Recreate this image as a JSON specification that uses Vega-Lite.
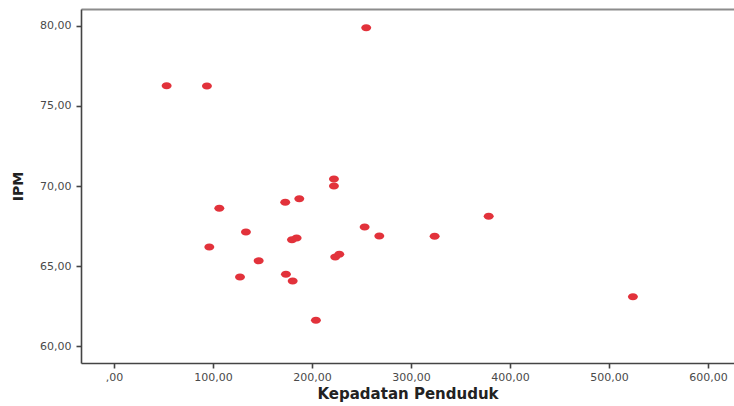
{
  "$schema": "https://vega.github.io/schema/vega-lite/v6.json",
  "width": 653,
  "height": 354,
  "autosize": "none",
  "padding": {"left": 81, "top": 9, "right": 0, "bottom": 43},
  "background": "white",
  "config": {"view": {"stroke": null}},
  "data": {"values": [
    {"kepadatan": 53.2, "ipm": 76.27},
    {"kepadatan": 93.9, "ipm": 76.25},
    {"kepadatan": 254.8, "ipm": 79.89},
    {"kepadatan": 222.2, "ipm": 70.44},
    {"kepadatan": 222.2, "ipm": 70.0},
    {"kepadatan": 106.4, "ipm": 68.61},
    {"kepadatan": 173.0, "ipm": 68.98},
    {"kepadatan": 187.2, "ipm": 69.21},
    {"kepadatan": 133.3, "ipm": 67.13},
    {"kepadatan": 96.3, "ipm": 66.19},
    {"kepadatan": 179.8, "ipm": 66.64},
    {"kepadatan": 184.5, "ipm": 66.75},
    {"kepadatan": 253.2, "ipm": 67.44},
    {"kepadatan": 268.0, "ipm": 66.88},
    {"kepadatan": 323.9, "ipm": 66.86},
    {"kepadatan": 378.5, "ipm": 68.11},
    {"kepadatan": 146.2, "ipm": 65.33},
    {"kepadatan": 127.3, "ipm": 64.31},
    {"kepadatan": 173.7, "ipm": 64.48},
    {"kepadatan": 180.5, "ipm": 64.06},
    {"kepadatan": 223.5, "ipm": 65.56},
    {"kepadatan": 227.6, "ipm": 65.73},
    {"kepadatan": 204.0, "ipm": 61.61},
    {"kepadatan": 524.2, "ipm": 63.08}
  ]},
  "layer": [
    {
      "mark": {"type": "point", "filled": true, "opacity": 1, "color": "#e2323b", "size": 100, "shape": "M-1,0A1,0.7 0 1,1 1,0A1,0.7 0 1,1 -1,0Z"},
      "encoding": {
        "x": {
          "field": "kepadatan", "type": "quantitative",
          "scale": {"domain": [-33.3, 626.3], "nice": false, "zero": false},
          "axis": {
            "orient": "bottom",
            "title": "Kepadatan Penduduk",
            "values": [0, 100, 200, 300, 400, 500, 600],
            "labelExpr": "datum.value == 0 ? ',00' : replace(format(datum.value, '.2f'), '.', ',')",
            "grid": false,
            "domainColor": "#444444", "domainWidth": 1.6,
            "tickColor": "#444444", "tickWidth": 1.6, "tickSize": 5,
            "labelFont": "DejaVu Sans", "labelFontSize": 11, "labelColor": "#4a4a4a", "labelPadding": 3,
            "titleFont": "DejaVu Sans", "titleFontSize": 15, "titleFontWeight": "bold", "titleColor": "#222222", "titlePadding": 4
          }
        },
        "y": {
          "field": "ipm", "type": "quantitative",
          "scale": {"domain": [58.94, 81.06], "nice": false, "zero": false},
          "axis": {
            "title": "IPM",
            "values": [60, 65, 70, 75, 80],
            "labelExpr": "replace(format(datum.value, '.2f'), '.', ',')",
            "grid": false,
            "domainColor": "#444444", "domainWidth": 1.6,
            "tickColor": "#444444", "tickWidth": 1.6, "tickSize": 5,
            "labelFont": "DejaVu Sans", "labelFontSize": 11, "labelColor": "#4a4a4a", "labelPadding": 5,
            "titleFont": "DejaVu Sans", "titleFontSize": 14, "titleFontWeight": "bold", "titleColor": "#222222", "titlePadding": 14
          }
        }
      }
    },
    {
      "mark": {"type": "point", "opacity": 0},
      "encoding": {
        "x": {
          "field": "kepadatan", "type": "quantitative",
          "axis": {"orient": "top", "title": null, "labels": false, "ticks": false, "grid": false, "domainColor": "#8c8c8c", "domainWidth": 2}
        },
        "y": {"field": "ipm", "type": "quantitative", "axis": null}
      }
    }
  ],
  "resolve": {"axis": {"x": "independent", "y": "independent"}}
}
